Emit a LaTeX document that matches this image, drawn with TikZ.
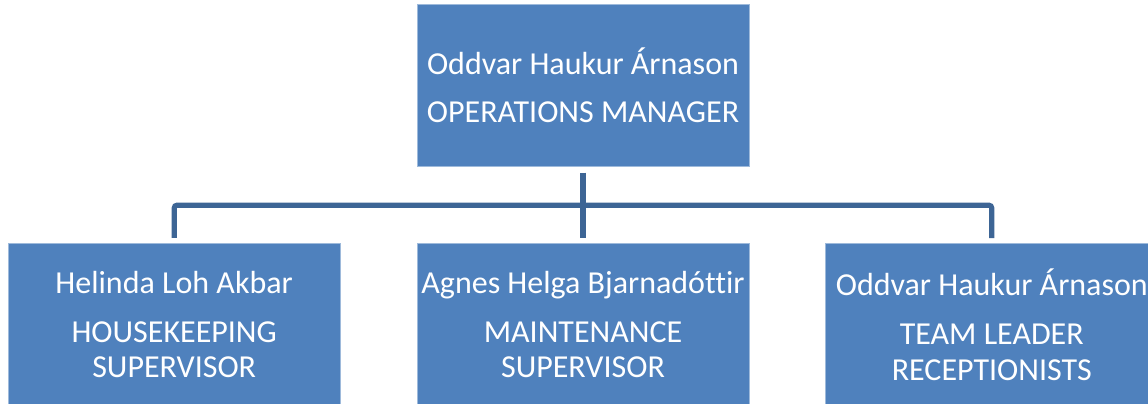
\documentclass[tikz,border=0pt]{standalone}
\usepackage{fontspec}
\setmainfont[Ligatures=NoCommon]{Carlito}
\usepackage{tikz}
\usetikzlibrary{positioning,calc}
\definecolor{boxblue}{RGB}{79,129,189}
\definecolor{linkblue}{RGB}{61,101,149}
\tikzset{>=stealth}
\tikzset{
    box/.style={rectangle, fill=boxblue, draw=boxblue!55!white, line width=0.4pt,
        minimum width=166pt, minimum height=81pt, inner sep=0pt,
        text=white, align=center, font=\fontsize{16}{18}\selectfont},
    link/.style={draw=linkblue, line width=2.6pt, rounded corners=1.5pt,
        shorten <=2.8pt, shorten >=2.6pt}
}

\begin{document}
\begin{tikzpicture}[node distance=38pt]
    \def\gap{6.2pt}
    \useasboundingbox (-291.5pt,-158.75pt) rectangle (282.5pt,42.75pt);

    % top level
    \node[box] (mgr) at (0,0) {Oddvar Haukur Árnason\\[\gap]OPERATIONS MANAGER};

    % second level
    \node[box, below=38.25pt of mgr] (mnt) {Agnes Helga Bjarnadóttir\\[\gap]MAINTENANCE\\SUPERVISOR};
    \node[box, left=of mnt] (hk) {Helinda Loh Akbar\\[\gap]HOUSEKEEPING\\SUPERVISOR};
    \node[box, right=of mnt] (rcp) {Oddvar Haukur Árnason\\[\gap]TEAM LEADER\\RECEPTIONISTS};

    \coordinate (bus) at ($(mgr.south)!0.5!(mnt.north)$);

    \draw[link] (mgr.south) -- (mnt.north);
    \draw[link] (hk.north) |- (bus) -| (rcp.north);
\end{tikzpicture}
\end{document}
